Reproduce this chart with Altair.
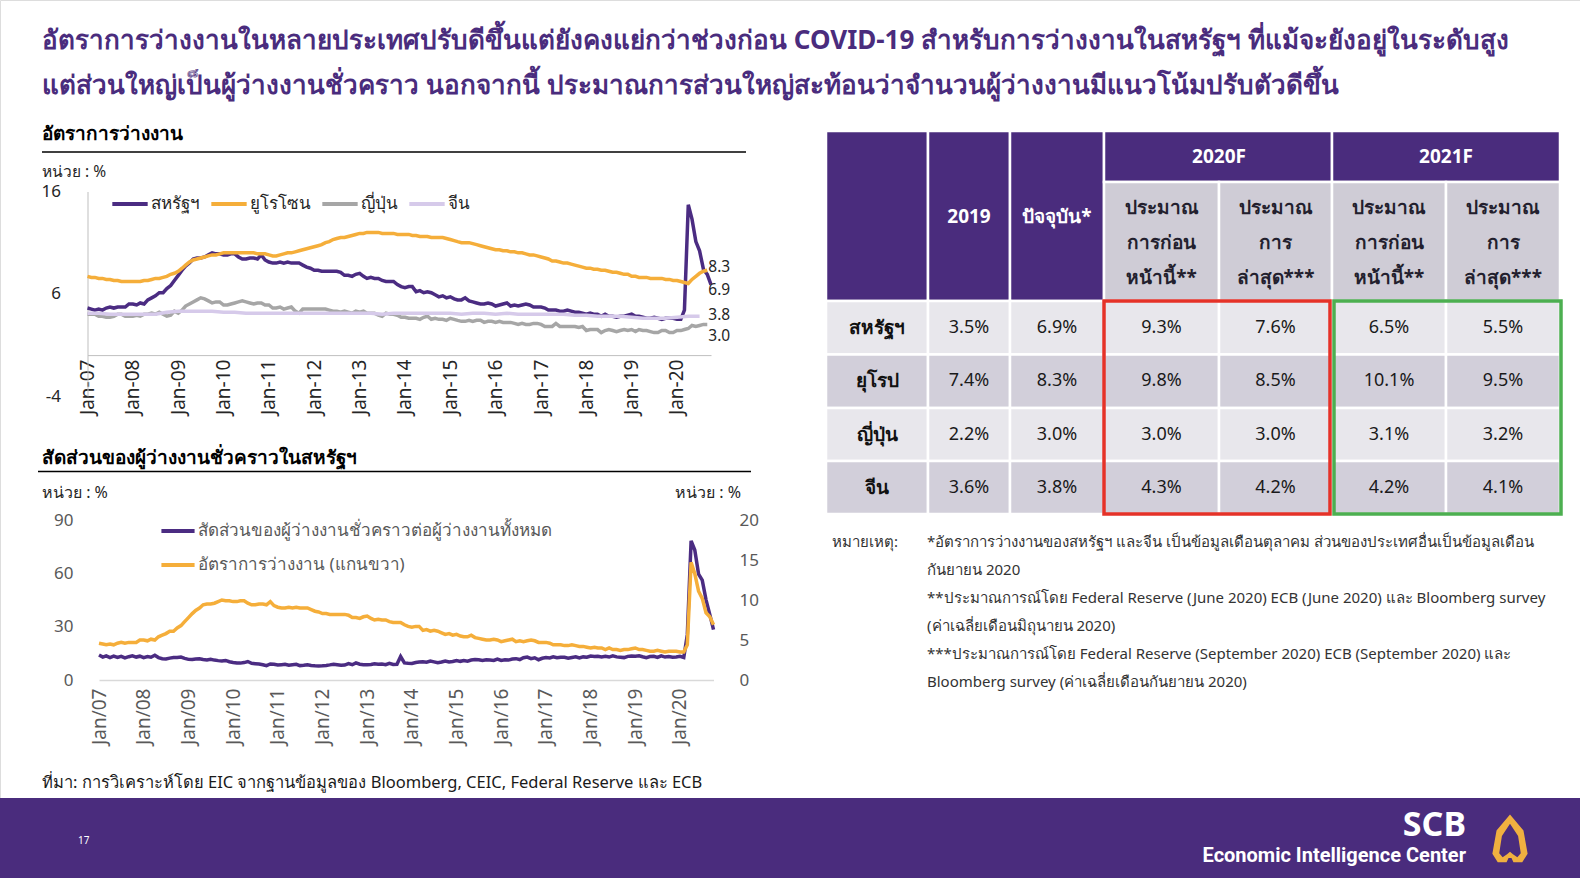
import altair as alt
import pandas as pd

W, H = 1580, 878
FONT = "Noto Sans"
PURPLE = "#4A2C7D"
LINE_PURPLE = "#4B2C82"
ORANGE = "#F5AE3A"
GRAY = "#A6A6A6"
LAVENDER = "#D6CAEA"

# ---------------- data ----------------
# US unemployment rate, monthly Jan-2007 .. Oct-2020
US = [
    4.6, 4.5, 4.4, 4.5, 4.4, 4.6, 4.7, 4.6, 4.7, 4.7, 4.7, 5.0,
    5.0, 4.9, 5.1, 5.0, 5.4, 5.6, 5.8, 6.1, 6.1, 6.5, 6.8, 7.3,
    7.8, 8.3, 8.7, 9.0, 9.4, 9.5, 9.5, 9.6, 9.8, 10.0, 9.9, 9.9,
    9.8, 9.8, 9.9, 9.9, 9.6, 9.4, 9.4, 9.5, 9.5, 9.4, 9.8, 9.3,
    9.1, 9.0, 9.0, 9.1, 9.0, 9.1, 9.0, 9.0, 9.0, 8.8, 8.6, 8.5,
    8.3, 8.3, 8.2, 8.2, 8.2, 8.2, 8.2, 8.1, 7.8, 7.8, 7.7, 7.9,
    8.0, 7.7, 7.5, 7.6, 7.5, 7.5, 7.3, 7.2, 7.2, 7.2, 6.9, 6.7,
    6.6, 6.7, 6.7, 6.2, 6.3, 6.1, 6.2, 6.1, 5.9, 5.7, 5.8, 5.6,
    5.7, 5.5, 5.4, 5.4, 5.6, 5.3, 5.2, 5.1, 5.0, 5.0, 5.1, 5.0,
    4.8, 4.9, 5.0, 5.1, 4.8, 4.9, 4.8, 4.9, 5.0, 4.9, 4.7, 4.7,
    4.7, 4.6, 4.4, 4.4, 4.4, 4.3, 4.3, 4.4, 4.3, 4.2, 4.2, 4.1,
    4.0, 4.1, 4.0, 4.0, 3.8, 4.0, 3.8, 3.8, 3.7, 3.8, 3.8, 3.9,
    4.0, 3.8, 3.8, 3.7, 3.6, 3.6, 3.7, 3.6, 3.5, 3.6, 3.6, 3.6,
    3.5, 3.5, 4.4, 14.7, 13.3, 11.1, 10.2, 8.4, 7.9, 6.9,
]
# Euro area unemployment rate, monthly Jan-2007 .. Sep-2020
EURO = [
    7.7, 7.6, 7.6, 7.5, 7.5, 7.4, 7.4, 7.3, 7.3, 7.2, 7.2, 7.2,
    7.2, 7.2, 7.2, 7.3, 7.3, 7.4, 7.5, 7.5, 7.6, 7.7, 7.9, 8.0,
    8.2, 8.5, 8.8, 9.1, 9.3, 9.4, 9.5, 9.6, 9.7, 9.8, 9.8, 9.9,
    10.0, 10.0, 10.0, 10.0, 10.0, 10.0, 10.0, 10.0, 10.0, 9.9, 9.9, 9.9,
    9.8, 9.7, 9.7, 9.8, 9.9, 10.0, 10.0, 10.1, 10.2, 10.3, 10.4, 10.5,
    10.6, 10.7, 10.8, 11.0, 11.1, 11.3, 11.4, 11.5, 11.5, 11.6, 11.7, 11.8,
    11.9, 11.9, 12.0, 12.0, 12.0, 12.0, 11.9, 11.9, 11.9, 11.9, 11.8, 11.8,
    11.8, 11.8, 11.7, 11.7, 11.6, 11.6, 11.6, 11.5, 11.5, 11.5, 11.5, 11.4,
    11.3, 11.2, 11.1, 11.0, 11.0, 11.0, 10.9, 10.8, 10.7, 10.6, 10.5, 10.4,
    10.3, 10.3, 10.2, 10.2, 10.1, 10.1, 10.0, 10.0, 9.9, 9.8, 9.8, 9.7,
    9.6, 9.5, 9.4, 9.2, 9.2, 9.1, 9.0, 9.0, 8.9, 8.8, 8.7, 8.6,
    8.5, 8.5, 8.4, 8.4, 8.3, 8.3, 8.2, 8.1, 8.1, 8.0, 7.9, 7.9,
    7.7, 7.7, 7.6, 7.6, 7.6, 7.5, 7.5, 7.5, 7.5, 7.4, 7.4, 7.3,
    7.3, 7.2, 7.1, 7.0, 7.4, 7.7, 8.0, 8.2, 8.3,
]
# Japan unemployment rate, monthly Jan-2007 .. Sep-2020
JAPAN = [
    4.0, 4.0, 4.0, 3.8, 3.8, 3.7, 3.7, 3.8, 4.0, 4.0, 3.8, 3.8,
    3.8, 3.9, 3.8, 4.0, 4.0, 4.1, 4.0, 4.2, 4.0, 3.8, 3.9, 4.3,
    4.1, 4.4, 4.8, 5.0, 5.2, 5.4, 5.6, 5.5, 5.3, 5.1, 5.2, 5.2,
    4.9, 4.9, 5.0, 5.1, 5.2, 5.3, 5.2, 5.1, 5.0, 5.1, 5.1, 4.9,
    4.9, 4.6, 4.6, 4.7, 4.5, 4.6, 4.7, 4.3, 4.1, 4.5, 4.5, 4.5,
    4.5, 4.5, 4.5, 4.5, 4.4, 4.3, 4.3, 4.2, 4.3, 4.2, 4.1, 4.3,
    4.2, 4.3, 4.1, 4.1, 4.1, 3.9, 3.8, 4.1, 4.0, 4.0, 3.9, 3.7,
    3.7, 3.6, 3.6, 3.6, 3.5, 3.7, 3.8, 3.5, 3.6, 3.5, 3.5, 3.4,
    3.6, 3.5, 3.4, 3.3, 3.3, 3.4, 3.3, 3.4, 3.4, 3.2, 3.3, 3.3,
    3.2, 3.3, 3.2, 3.2, 3.2, 3.1, 3.0, 3.1, 3.0, 3.0, 3.1, 3.1,
    3.0, 2.8, 2.8, 2.8, 3.1, 2.8, 2.8, 2.8, 2.8, 2.8, 2.7, 2.8,
    2.4, 2.5, 2.5, 2.5, 2.2, 2.4, 2.5, 2.4, 2.3, 2.4, 2.5, 2.4,
    2.5, 2.3, 2.5, 2.4, 2.4, 2.3, 2.2, 2.2, 2.4, 2.4, 2.2, 2.2,
    2.4, 2.4, 2.5, 2.6, 2.9, 2.8, 2.9, 3.0, 3.0,
]
# China registered urban unemployment rate, quarterly Q1-2007 .. Q3-2020
CHINA_Q = [
    4.1, 4.1, 4.0, 4.0,
    4.0, 4.0, 4.0, 4.2,
    4.3, 4.3, 4.3, 4.3,
    4.2, 4.2, 4.1, 4.1,
    4.1, 4.1, 4.1, 4.1,
    4.1, 4.1, 4.1, 4.1,
    4.1, 4.1, 4.0, 4.1,
    4.1, 4.1, 4.1, 4.1,
    4.1, 4.0, 4.1, 4.1,
    4.0, 4.1, 4.0, 4.0,
    4.0, 4.0, 4.0, 3.9,
    3.9, 3.8, 3.8, 3.8,
    3.7, 3.6, 3.6, 3.6,
    3.7, 3.8, 3.8,
]
# US: share of temporary layoffs in total unemployed (%), monthly Jan-2007 .. Oct-2020
TEMP_SHARE = [
    14.1, 12.9, 13.6, 12.6, 13.4, 12.7, 13.3, 12.4, 13.1, 13.6, 12.9, 13.4,
    12.6, 13.2, 12.8, 13.9, 12.6, 12.0, 11.8, 12.3, 12.7, 12.6, 12.9, 12.2,
    11.6, 11.5, 11.8, 11.9, 11.5, 11.3, 11.7, 11.2, 10.9, 10.7, 11.0, 10.3,
    9.9, 9.6, 9.5, 9.8, 10.4, 9.4, 9.2, 9.0, 8.6, 8.1, 9.0, 8.8,
    8.4, 8.6, 8.8, 8.3, 8.6, 8.8, 8.1, 8.3, 8.6, 8.2, 8.0, 7.9,
    8.0, 8.2, 8.5, 8.9, 8.6, 8.3, 8.4, 9.2, 8.6, 9.6, 8.9, 8.6,
    8.6, 8.7, 9.1, 8.8, 9.0, 8.6, 9.4, 8.7, 8.8, 13.2, 9.6, 9.4,
    9.3, 9.8, 10.1, 10.3, 10.0, 10.6, 10.2, 9.7, 10.1, 10.7, 10.2, 10.4,
    11.0, 10.5, 10.9, 10.6, 11.2, 11.5, 11.4, 11.0, 11.4, 11.2, 11.0, 11.8,
    11.0, 11.4, 11.2, 11.8, 12.0, 11.5, 12.5, 12.9, 12.0, 12.5, 11.4, 12.2,
    12.6, 12.4, 13.0, 12.5, 12.8, 12.8, 12.3, 12.7, 13.0, 12.4, 13.0, 12.8,
    13.5, 13.2, 13.4, 13.0, 13.3, 12.9, 13.6, 13.0, 12.8, 12.6, 13.3, 13.5,
    13.4, 13.6, 13.1, 12.6, 13.2, 13.3, 12.7, 13.6, 12.9, 13.2, 12.8, 13.0,
    13.3, 12.7, 25.5, 78.3, 73.1, 59.6, 56.2, 45.1, 36.8, 28.3,
]

TOP_NAMES = ["สหรัฐฯ", "ยูโรโซน", "ญี่ปุ่น", "จีน"]
TOP_COLORS = [LINE_PURPLE, ORANGE, GRAY, LAVENDER]
END_LABELS = ["8.3", "6.9", "3.8", "3.0"]
END_VALUES = [8.3, 6.9, 3.8, 3.0]
END_DY = [-3, 5, -1, 12]  # label nudges (style)
BOT_NAMES = ["สัดส่วนของผู้ว่างงานชั่วคราวต่อผู้ว่างงานทั้งหมด", "อัตราการว่างงาน (แกนขวา)"]

TABLE_COUNTRIES = ["สหรัฐฯ", "ยุโรป", "ญี่ปุ่น", "จีน"]
T_2019 = [3.5, 7.4, 2.2, 3.6]
T_NOW = [6.9, 8.3, 3.0, 3.8]
T_2020_PREV = [9.3, 9.8, 3.0, 4.3]
T_2020_LATEST = [7.6, 8.5, 3.0, 4.2]
T_2021_PREV = [6.5, 10.1, 3.1, 4.2]
T_2021_LATEST = [5.5, 9.5, 3.2, 4.1]
HEAD_TOP = ["2019", "ปัจจุบัน*"]
HEAD_YEARS = ["2020F", "2021F"]
HEAD_SUB = [["ประมาณ", "การก่อน", "หน้านี้**"], ["ประมาณ", "การ", "ล่าสุด***"]]

TITLE = [
    "อัตราการว่างงานในหลายประเทศปรับดีขึ้นแต่ยังคงแย่กว่าช่วงก่อน COVID-19 สำหรับการว่างงานในสหรัฐฯ ที่แม้จะยังอยู่ในระดับสูง",
    "แต่ส่วนใหญ่เป็นผู้ว่างงานชั่วคราว นอกจากนี้ ประมาณการส่วนใหญ่สะท้อนว่าจำนวนผู้ว่างงานมีแนวโน้มปรับตัวดีขึ้น",
]
NOTES = [
    "*อัตราการว่างงานของสหรัฐฯ และจีน เป็นข้อมูลเดือนตุลาคม ส่วนของประเทศอื่นเป็นข้อมูลเดือน",
    "กันยายน 2020",
    "**ประมาณการณ์โดย Federal Reserve (June 2020) ECB (June 2020) และ Bloomberg survey",
    "(ค่าเฉลี่ยเดือนมิถุนายน 2020)",
    "***ประมาณการณ์โดย Federal Reserve (September 2020) ECB (September 2020) และ",
    "Bloomberg survey (ค่าเฉลี่ยเดือนกันยายน 2020)",
]
SOURCE = "ที่มา: การวิเคราะห์โดย EIC จากฐานข้อมูลของ Bloomberg, CEIC, Federal Reserve และ ECB"

# ---------------- frames ----------------
months = pd.date_range("2007-01-01", periods=len(US), freq="MS")


def series_rows(name, vals, step=1):
    return [{"date": months[i * step].strftime("%Y-%m-%d"), "series": name, "value": v}
            for i, v in enumerate(vals)]


top_df = pd.DataFrame(
    series_rows(TOP_NAMES[0], US) + series_rows(TOP_NAMES[1], EURO)
    + series_rows(TOP_NAMES[2], JAPAN) + series_rows(TOP_NAMES[3], CHINA_Q, 3)
)
lbl_date = months[-2].strftime("%Y-%m-%d")
share_df = pd.DataFrame(series_rows(BOT_NAMES[0], TEMP_SHARE))
rate_df = pd.DataFrame(series_rows(BOT_NAMES[1], US))

# ---------------- helpers ----------------
ONE = alt.Data(values=[{"k": 1}])


def text(t, x, y, size, color="#262626", bold=False, align="left", baseline="middle", font=FONT, lh=None):
    kw = dict(align=align, baseline=baseline, fontSize=size, color=color, font=font,
              fontWeight="bold" if bold else "normal")
    if lh:
        kw["lineHeight"] = lh
    return alt.Chart(ONE).mark_text(**kw).encode(x=alt.value(x), y=alt.value(y), text=alt.value(t))


def hrule(x1, x2, y, color="#000000", w=1.5):
    return alt.Chart(ONE).mark_rule(color=color, strokeWidth=w).encode(
        x=alt.value(x1), x2=alt.value(x2), y=alt.value(y))


def dt(y, m):
    return alt.DateTime(year=y, month=m, date=1, utc=True)


YEAR_TICKS = [dt(y, 1) for y in range(2007, 2021)]

# ---------------- top chart ----------------
TOP_XR = [87.5, 711]
TOP_YD = [-4, 16]
TOP_YR = [396, 191.5]
top_zero = TOP_YR[0] + (TOP_YR[1] - TOP_YR[0]) * (0 - TOP_YD[0]) / (TOP_YD[1] - TOP_YD[0])

sx_top = alt.Scale(type="utc", domain=[dt(2007, 1), dt(2020, 10)], range=TOP_XR)
sy_top = alt.Scale(domain=TOP_YD, range=TOP_YR, nice=False, zero=False)

top_x_axis = alt.Axis(orient="bottom", offset=top_zero - H, values=YEAR_TICKS,
                      labelExpr="utcFormat(datum.value, '%b-%y')",
                      labelAngle=270, ticks=False, grid=False, title=None,
                      domainColor="#BFBFBF", labelFontSize=19, labelColor="#262626",
                      labelPadding=4, labelFont=FONT, labelOverlap=False, labelFlush=False)
top_y_axis = alt.Axis(orient="left", offset=-TOP_XR[0], values=[-4, 6, 16], ticks=False, grid=False,
                      labelExpr="(datum.value < 0 ? '-' : '') + abs(datum.value)",
                      title=None, domainColor="#BFBFBF", labelFontSize=17, labelColor="#262626",
                      labelPadding=27, labelFont=FONT)

top_lines = alt.Chart(top_df).mark_line(strokeWidth=3.5).encode(
    x=alt.X("date:T", scale=sx_top, axis=top_x_axis),
    y=alt.Y("value:Q", scale=sy_top, axis=top_y_axis),
    color=alt.Color("series:N", sort=TOP_NAMES,
                    scale=alt.Scale(domain=TOP_NAMES, range=TOP_COLORS),
                    legend=alt.Legend(orient="none", legendX=110, legendY=184, direction="horizontal",
                                      title=None, symbolType="stroke", symbolStrokeWidth=4,
                                      symbolSize=1250, labelFontSize=17, labelColor="#262626",
                                      labelFont=FONT, columnPadding=3, labelOffset=1, labelLimit=0)),
)
end_layers = []
for lab, val, dy in zip(END_LABELS, END_VALUES, END_DY):
    end_layers.append(
        alt.Chart(pd.DataFrame({"date": [lbl_date], "value": [val], "label": [lab]})).mark_text(
            align="left", baseline="middle", fontSize=15.5, color="#262626", dx=1, dy=dy, font=FONT
        ).encode(x=alt.X("date:T", scale=sx_top), y=alt.Y("value:Q", scale=sy_top), text="label:N")
    )
top_chart = alt.layer(top_lines, *end_layers)

# ---------------- bottom chart ----------------
BOT_XR = [99, 713.5]
BOT_YR = [680, 520]
sx_bot = alt.Scale(type="utc", domain=[dt(2007, 1), dt(2020, 10)], range=BOT_XR)
sy_left = alt.Scale(domain=[0, 90], range=BOT_YR, nice=False, zero=False)
sy_right = alt.Scale(domain=[0, 20], range=BOT_YR, nice=False, zero=False)

bot_x_axis = alt.Axis(orient="bottom", offset=BOT_YR[0] - H, values=YEAR_TICKS,
                      labelExpr="utcFormat(datum.value, '%b/%y')",
                      labelAngle=270, ticks=False, grid=False, title=None,
                      domainColor="#D9D9D9", domainWidth=1.5, labelFontSize=19, labelColor="#595959",
                      labelPadding=8, labelFont=FONT, labelOverlap=False, labelFlush=False)
bot_color = alt.Color("series:N", sort=BOT_NAMES,
                      scale=alt.Scale(domain=BOT_NAMES, range=[LINE_PURPLE, ORANGE]),
                      legend=alt.Legend(orient="none", legendX=159, legendY=512, direction="vertical",
                                        title=None, symbolType="stroke", symbolStrokeWidth=4,
                                        symbolSize=1100, labelFontSize=17, labelColor="#595959",
                                        labelFont=FONT, rowPadding=7, labelOffset=1, labelLimit=0))
bot_share = alt.Chart(share_df).mark_line(strokeWidth=3.5).encode(
    x=alt.X("date:T", scale=sx_bot, axis=bot_x_axis),
    y=alt.Y("value:Q", scale=sy_left,
            axis=alt.Axis(orient="left", offset=-80, values=[0, 30, 60, 90], ticks=False, grid=False,
                          domain=False, title=None, labelFontSize=17, labelColor="#595959",
                          labelPadding=7, labelFont=FONT)),
    color=bot_color,
)
bot_rate = alt.Chart(rate_df).mark_line(strokeWidth=3.5).encode(
    x=alt.X("date:T", scale=sx_bot, axis=bot_x_axis),
    y=alt.Y("value:Q", scale=sy_right,
            axis=alt.Axis(orient="right", offset=732 - W, values=[0, 5, 10, 15, 20], ticks=False,
                          grid=False, domain=False, title=None, labelFontSize=17,
                          labelColor="#595959", labelPadding=7, labelFont=FONT)),
    color=bot_color,
)
bottom_chart = alt.layer(bot_share, bot_rate).resolve_scale(y="independent")

# ---------------- table ----------------
tx = alt.Scale(domain=[0, 1, 2, 3, 4, 5, 6, 7],
               range=[826, 928, 1010, 1104, 1219, 1332, 1446, 1560], zero=False, nice=False)
ty = alt.Scale(domain=[0, 1, 2, 3, 4, 5, 6],
               range=[131, 182, 301, 354.5, 408, 461, 514], zero=False, nice=False)

header_cells = pd.DataFrame([
    {"x0": 0, "x1": 1, "y0": 0, "y1": 2}, {"x0": 1, "x1": 2, "y0": 0, "y1": 2},
    {"x0": 2, "x1": 3, "y0": 0, "y1": 2}, {"x0": 3, "x1": 5, "y0": 0, "y1": 1},
    {"x0": 5, "x1": 7, "y0": 0, "y1": 1},
])
sub_cells = pd.DataFrame([{"x0": c, "x1": c + 1, "y0": 1, "y1": 2} for c in range(3, 7)])

cols = [T_2019, T_NOW, T_2020_PREV, T_2020_LATEST, T_2021_PREV, T_2021_LATEST]
body_rows, country_txt, value_txt = [], [], []
for r, country in enumerate(TABLE_COUNTRIES):
    shade = "l" if r % 2 == 0 else "d"
    for c in range(7):
        body_rows.append({"x0": c, "x1": c + 1, "y0": r + 2, "y1": r + 3, "shade": shade})
    country_txt.append({"xc": 0.5, "yc": r + 2.5, "t": country})
    for c, vals in enumerate(cols):
        value_txt.append({"xc": c + 1.5, "yc": r + 2.5, "t": f"{vals[r]:.1f}%"})
body_df = pd.DataFrame(body_rows)


def cell_rects(df, **mk):
    return alt.Chart(df).mark_rect(stroke="#FFFFFF", strokeWidth=2.5, **mk).encode(
        x=alt.X("x0:Q", scale=tx, axis=None), x2="x1:Q",
        y=alt.Y("y0:Q", scale=ty, axis=None), y2="y1:Q")


def cell_text(df, **mk):
    return alt.Chart(df).mark_text(font=FONT, baseline="middle", **mk).encode(
        x=alt.X("xc:Q", scale=tx, axis=None), y=alt.Y("yc:Q", scale=ty, axis=None), text="t:N")


hdr = cell_rects(header_cells, color=PURPLE)
sub = cell_rects(sub_cells, color="#CFCCD6")
body = cell_rects(body_df).encode(
    color=alt.Color("shade:N", scale=alt.Scale(domain=["l", "d"], range=["#E8E7EC", "#D2CFDA"]), legend=None))

head_top_txt = alt.Chart(pd.DataFrame({"xc": [1.5, 2.5], "t": HEAD_TOP})).mark_text(
    color="#FFFFFF", fontSize=19, fontWeight="bold", font=FONT, baseline="middle").encode(
    x=alt.X("xc:Q", scale=tx, axis=None), y=alt.value(217), text="t:N")
head_year_txt = cell_text(pd.DataFrame({"xc": [4, 6], "yc": [0.5, 0.5], "t": HEAD_YEARS}),
                          color="#FFFFFF", fontSize=19, fontWeight="bold")
sub_txt = cell_text(pd.DataFrame({"xc": [3.5, 4.5, 5.5, 6.5], "yc": [1.5] * 4,
                                  "t": [HEAD_SUB[0], HEAD_SUB[1], HEAD_SUB[0], HEAD_SUB[1]]}),
                    color="#231F2E", fontSize=19, fontWeight="bold", lineHeight=35, dy=-34)
country_text = cell_text(pd.DataFrame(country_txt), color="#111111", fontSize=19, fontWeight="bold")
value_text = cell_text(pd.DataFrame(value_txt), color="#1A1A1A", fontSize=18)

red_box = alt.Chart(pd.DataFrame([{"x0": 3, "x1": 5, "y0": 2, "y1": 6}])).mark_rect(
    fillOpacity=0, stroke="#E53228", strokeWidth=3.5, x2Offset=-2).encode(
    x=alt.X("x0:Q", scale=tx, axis=None), x2="x1:Q", y=alt.Y("y0:Q", scale=ty, axis=None), y2="y1:Q")
green_box = alt.Chart(pd.DataFrame([{"x0": 5, "x1": 7, "y0": 2, "y1": 6}])).mark_rect(
    fillOpacity=0, stroke="#4CAF50", strokeWidth=3.5, xOffset=2, x2Offset=1).encode(
    x=alt.X("x0:Q", scale=tx, axis=None), x2="x1:Q", y=alt.Y("y0:Q", scale=ty, axis=None), y2="y1:Q")

# ---------------- annotations ----------------
footer = alt.Chart(ONE).mark_rect(color=PURPLE).encode(
    x=alt.value(0), x2=alt.value(W), y=alt.value(798), y2=alt.value(H))
LOGO = ("M0,-1 L0.55,-0.35 L0.72,0.6 L0.5,0.95 L0.14,0.95 L0.06,0.78 L-0.06,0.78 L-0.14,0.95 "
        "L-0.5,0.95 L-0.72,0.6 L-0.55,-0.35 Z "
        "M0,-0.62 L-0.33,-0.12 L-0.44,0.58 L-0.3,0.74 L-0.12,0.62 L0,0.52 L0.12,0.62 L0.3,0.74 "
        "L0.44,0.58 L0.33,-0.12 Z")
logo = alt.Chart(ONE).mark_point(shape=LOGO, filled=True, color="#F0B040", opacity=1, size=2400).encode(
    x=alt.value(1510), y=alt.value(839))

annotations = [
    footer,
    text(TITLE, 42, 40.5, 26, color=PURPLE, bold=True, lh=45.5),
    text("อัตราการว่างงาน", 42, 134, 19, color="#000000", bold=True),
    hrule(42, 746, 152),
    text("หน่วย : %", 42, 172, 15.5),
    text("สัดส่วนของผู้ว่างงานชั่วคราวในสหรัฐฯ", 42, 458, 19, color="#000000", bold=True),
    hrule(38, 751, 471.5),
    text("หน่วย : %", 42, 493, 16),
    text("หน่วย : %", 741, 493, 16, align="right"),
    text(SOURCE, 42, 783, 16.5, color="#1A1A1A"),
    text("หมายเหตุ:", 832, 542, 15, color="#333333"),
    text(NOTES, 927, 542, 15, color="#333333", lh=28),
    text("17", 78, 841, 10, color="#FFFFFF"),
    text("SCB", 1466, 826, 34, color="#FFFFFF", bold=True, align="right"),
    text("Economic Intelligence Center", 1466, 856, 20, color="#FFFFFF", bold=True, align="right",
         font="Roboto"),
    logo,
]

chart = alt.layer(
    *annotations,
    top_chart,
    bottom_chart,
    hdr, sub, body, head_top_txt, head_year_txt, sub_txt, country_text, value_text, red_box, green_box,
).resolve_scale(
    x="independent", y="independent", color="independent"
).properties(
    width=W, height=H, autosize="none", padding=0, background="#FFFFFF"
).configure_view(strokeWidth=0).configure(font=FONT)

chart.save("out.html", embed_options={"renderer": "svg", "actions": False})
